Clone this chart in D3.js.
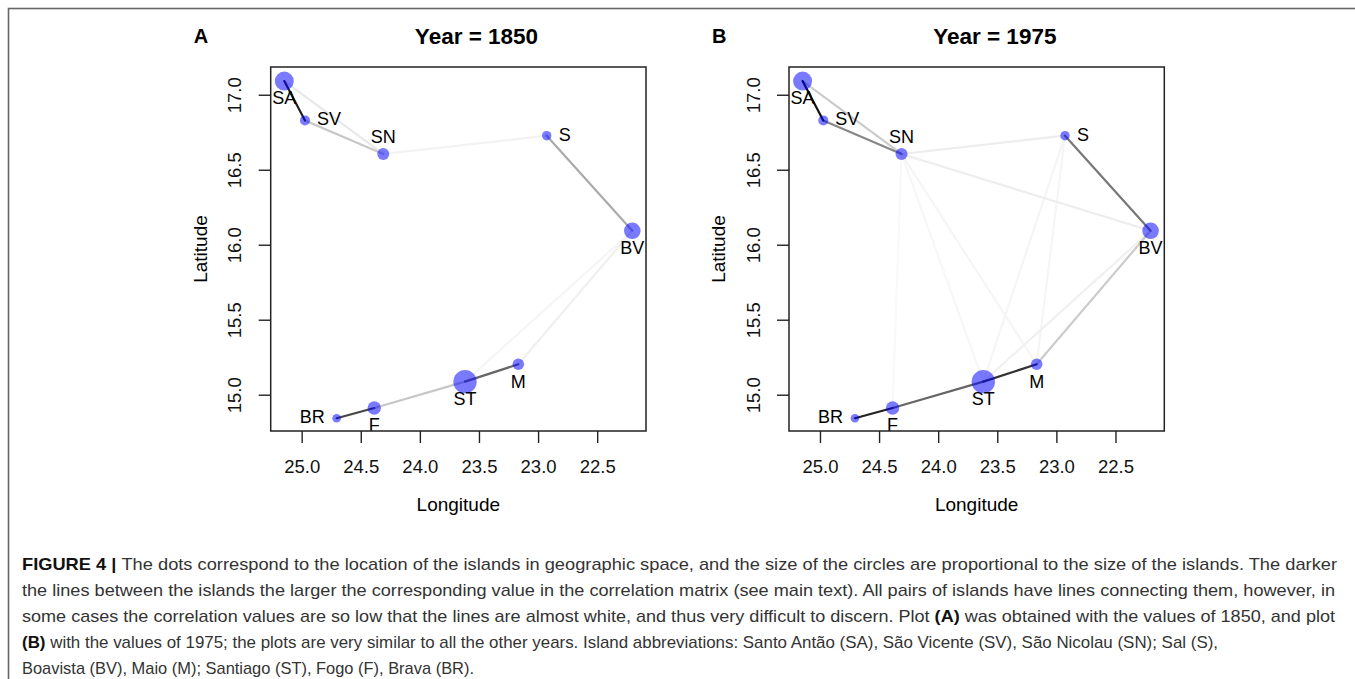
<!DOCTYPE html>
<html><head><meta charset="utf-8">
<script src="https://cdn.jsdelivr.net/npm/d3@7"></script>
<style>
html,body{margin:0;padding:0;background:#fff;}
svg{display:block;font-family:"Liberation Sans",Arial,Helvetica,sans-serif;}
</style></head>
<body><svg id="c" width="1355" height="679"></svg>
<script>
// ---- data ----
const islands = ["SA","SV","SN","S","BV","M","ST","F","BR"];
const longitude = [25.147, 24.972, 24.310, 22.927, 22.203, 23.167, 23.618, 24.386, 24.704];
const latitude  = [17.091, 16.829, 16.605, 16.727, 16.093, 15.203, 15.087, 14.911, 14.843];
const islandSize = [9.5, 5.0, 6.0, 4.7, 8.3, 5.8, 11.7, 6.7, 4.3];
const labelSide = ["below","right","above","right","below","below","below","below","left"];
const xTicks = [25.0, 24.5, 24.0, 23.5, 23.0, 22.5];
const yTicks = [15.0, 15.5, 16.0, 16.5, 17.0];
const years = [1850, 1975];
const panelLetters = ["A","B"];
// correlation (edge) values read as grey intensity
const corr1850 = [
  ["SA","SV",0.87],["SA","SN",0.09],["SV","SN",0.22],["SN","S",0.05],
  ["S","BV",0.33],["BV","M",0.06],["BV","ST",0.04],["M","ST",0.60],
  ["ST","F",0.22],["F","BR",0.73]
];
const corr1975 = [
  ["SA","SV",0.93],["SA","SN",0.20],["SV","SN",0.47],["SN","S",0.07],
  ["SN","BV",0.07],["S","BV",0.53],["SN","ST",0.03],["SN","M",0.04],
  ["SN","F",0.025],["S","ST",0.04],["S","M",0.04],["BV","ST",0.06],
  ["BV","M",0.20],["M","ST",0.80],["ST","F",0.60],["F","BR",0.87]
];
const corrs = [corr1850, corr1975];

const captionLines = [
  [["b","FIGURE 4 | "],["n","The dots correspond to the location of the islands in geographic space, and the size of the circles are proportional to the size of the islands. The darker"]],
  [["n","the lines between the islands the larger the corresponding value in the correlation matrix (see main text). All pairs of islands have lines connecting them, however, in"]],
  [["n","some cases the correlation values are so low that the lines are almost white, and thus very difficult to discern. Plot "],["b","(A)"],["n"," was obtained with the values of 1850, and plot"]],
  [["b","(B)"],["n"," with the values of 1975; the plots are very similar to all the other years. Island abbreviations: Santo Antão (SA), São Vicente (SV), São Nicolau (SN); Sal (S),"]],
  [["n","Boavista (BV), Maio (M); Santiago (ST), Fogo (F), Brava (BR)."]]
];
const captionWidths = [1315, 1313, 1313, 1196, 452];

// ---- drawing ----
const svg = d3.select("#c");
svg.append("rect").attr("x",8.5).attr("y",8.5).attr("width",1400).attr("height",800)
  .attr("fill","none").attr("stroke","#666").attr("stroke-width",1.6);

const plotW = 375.3, plotH = 364, plotTop = 67;
const panelLeft = [270.7, 789.0];
const rScale = d3.scaleLinear().domain([0,12]).range([0,12]);
const grey = d3.scaleLinear().domain([0,1]).range(["#ffffff","#000000"]);

years.forEach((yr, pi) => {
  const left = panelLeft[pi];
  const g = svg.append("g").attr("transform",`translate(${left},${plotTop})`);
  const x = d3.scaleLinear().domain([25.262, 22.087]).range([0, plotW]);
  const y = d3.scaleLinear().domain([14.758, 17.185]).range([plotH, 0]);
  const idx = {};
  islands.forEach((d,i)=>idx[d]=i);

  const edges = corrs[pi].slice().sort((a,b)=>a[2]-b[2]);
  g.selectAll("line.e").data(edges).enter().append("line")
    .attr("x1",d=>x(longitude[idx[d[0]]])).attr("y1",d=>y(latitude[idx[d[0]]]))
    .attr("x2",d=>x(longitude[idx[d[1]]])).attr("y2",d=>y(latitude[idx[d[1]]]))
    .attr("stroke",d=>grey(d[2])).attr("stroke-width",2.2).attr("stroke-linecap","round");

  g.selectAll("circle").data(islands).enter().append("circle")
    .attr("cx",(d,i)=>x(longitude[i])).attr("cy",(d,i)=>y(latitude[i]))
    .attr("r",(d,i)=>rScale(islandSize[i]))
    .attr("fill","rgb(0,0,255)").attr("fill-opacity",0.52);

  g.selectAll("text.lab").data(islands).enter().append("text")
    .attr("font-size",18).attr("fill","#000")
    .attr("x",(d,i)=>{const px=x(longitude[i]);const s=labelSide[i];return s==="right"?px+12:s==="left"?px-12:px;})
    .attr("y",(d,i)=>{const py=y(latitude[i]);const s=labelSide[i];return s==="below"?py+17:s==="above"?py-17:py-1.4;})
    .attr("dy","0.35em")
    .attr("text-anchor",(d,i)=>labelSide[i]==="right"?"start":labelSide[i]==="left"?"end":"middle")
    .text(d=>d);

  g.append("rect").attr("width",plotW).attr("height",plotH).attr("fill","none")
    .attr("stroke","#222").attr("stroke-width",1.5);

  const xa = g.append("g").attr("transform",`translate(0,${plotH})`)
    .call(d3.axisBottom(x).tickValues(xTicks).tickFormat(d3.format(".1f")).tickSize(12).tickPadding(0));
  xa.select(".domain").remove();
  xa.selectAll("line").attr("stroke","#222").attr("stroke-width",1.4);
  xa.selectAll("text").attr("font-size",18.5).attr("fill","#111")
    .attr("y",36).attr("dy","0.35em").attr("font-family","Liberation Sans, Arial, sans-serif");

  const ya = g.append("g").call(d3.axisLeft(y).tickValues(yTicks).tickFormat(d3.format(".1f")).tickSize(12));
  ya.select(".domain").remove();
  ya.selectAll("line").attr("stroke","#222").attr("stroke-width",1.4);
  ya.selectAll("text").attr("font-size",18.5).attr("fill","#111")
    .attr("transform","rotate(-90)").attr("x",0).attr("y",-35.7).attr("dy","0.35em")
    .attr("text-anchor","middle").attr("font-family","Liberation Sans, Arial, sans-serif");

  g.append("text").attr("x",plotW/2).attr("y",plotH+73).attr("dy","0.35em")
    .attr("text-anchor","middle").attr("font-size",19).text("Longitude");
  g.append("text").attr("transform",`translate(-70.7,${plotH/2}) rotate(-90)`)
    .attr("dy","0.35em").attr("text-anchor","middle").attr("font-size",19).text("Latitude");

  g.append("text").attr("x",205.8).attr("y",-31).attr("dy","0.35em").attr("text-anchor","middle")
    .attr("font-size",22.5).attr("font-weight","bold").text("Year = " + yr);
  g.append("text").attr("x",-69.7).attr("y",-31).attr("dy","0.35em").attr("text-anchor","middle")
    .attr("font-size",20).attr("font-weight","bold").text(panelLetters[pi]);
});

const capBase = [570, 596, 622, 648, 674];
captionLines.forEach((parts, li) => {
  const t = svg.append("text").attr("x",22).attr("y",capBase[li])
    .attr("font-size",17).attr("fill","#333")
    .attr("font-family","'Liberation Sans Narrow','Arial Narrow','Liberation Sans',Arial,sans-serif")
    .attr("textLength",captionWidths[li]).attr("lengthAdjust","spacingAndGlyphs");
  parts.forEach(p => {
    t.append("tspan").attr("font-weight",p[0]==="b"?"bold":"normal")
      .attr("fill",p[0]==="b"?"#111":"#333").text(p[1]);
  });
});
</script>
</body></html>
